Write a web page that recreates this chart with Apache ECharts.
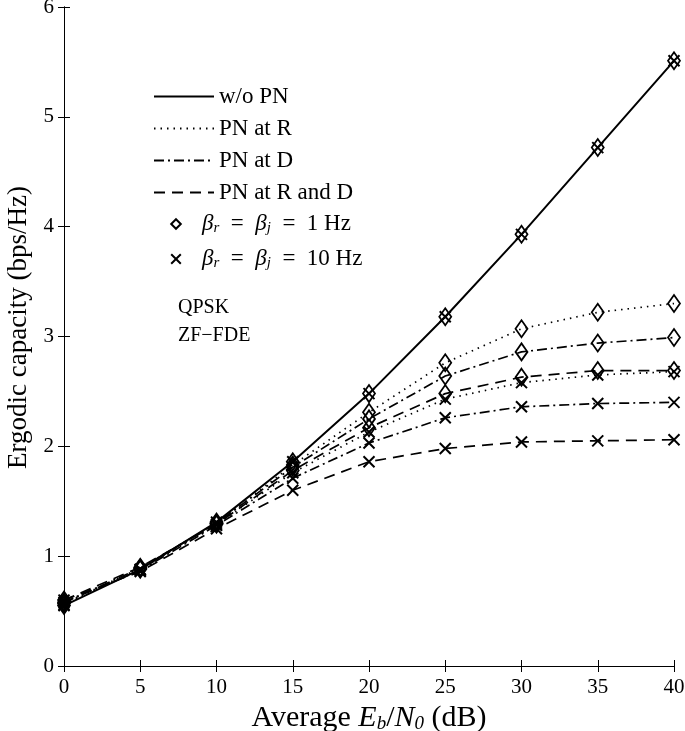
<!DOCTYPE html>
<html>
<head>
<meta charset="utf-8">
<script src="https://cdn.jsdelivr.net/npm/echarts@6/dist/echarts.min.js"></script>
<style>
html,body{margin:0;padding:0;background:#fff;}
#c{width:685px;height:731px;}
</style>
</head>
<body>
<div id="c"></div>
<script>
// ---- data ----
var snr = [0, 5, 10, 15, 20, 25, 30, 35, 40];
var woPN     = [0.55, 0.88, 1.31, 1.86, 2.48, 3.18, 3.93, 4.72, 5.51];
var pnR_b1   = [0.57, 0.89, 1.30, 1.83, 2.31, 2.76, 3.07, 3.22, 3.30];
var pnD_b1   = [0.58, 0.89, 1.30, 1.81, 2.25, 2.64, 2.86, 2.94, 2.99];
var pnRD_b1  = [0.60, 0.90, 1.29, 1.78, 2.17, 2.48, 2.63, 2.69, 2.69];
var pnR_b10  = [0.56, 0.88, 1.29, 1.76, 2.13, 2.43, 2.58, 2.65, 2.68];
var pnD_b10  = [0.58, 0.87, 1.28, 1.71, 2.03, 2.26, 2.36, 2.39, 2.40];
var pnRD_b10 = [0.60, 0.86, 1.25, 1.60, 1.86, 1.98, 2.04, 2.05, 2.06];
var xTicks = [0, 5, 10, 15, 20, 25, 30, 35, 40];
var yTicks = [0, 1, 2, 3, 4, 5, 6];
var lineLegend = ['w/o PN', 'PN at R', 'PN at D', 'PN at R and D'];
var markerLegend = ['b1', 'b10'];

var FONT = "'Liberation Serif','DejaVu Serif',serif";
var DIAMOND = 'path://M6,0L12,8.5L6,17L0,8.5Z';
var CROSS = 'path://M0,0L10,10M10,0L0,10';
var styles = {
  solid: 'solid',
  dotted: [1.5, 5],
  dashdot: [10, 4, 2, 4],
  dashed: [11, 7]
};
var CLEAR = 'rgba(0,0,0,0)';

function pairs(vals) { return snr.map(function (x, i) { return [x, vals[i]]; }); }

function dataSeries(name, vals, dash, marker, showLine) {
  var isD = marker === 'd';
  return {
    name: name,
    type: 'line',
    data: pairs(vals),
    symbol: isD ? DIAMOND : CROSS,
    symbolSize: isD ? [12, 17] : [11, 11],
    showAllSymbol: true,
    silent: true,
    animation: false,
    z: 3,
    lineStyle: { color: '#000', width: showLine ? (dash === 'solid' ? 2 : 1.7) : 0, type: dash, opacity: showLine ? 1 : 0 },
    itemStyle: { color: CLEAR, borderColor: '#000', borderWidth: isD ? 1.8 : 2 }
  };
}

function legendLine(name, dash) {
  return {
    name: name, type: 'line', data: [], animation: false, symbol: 'circle',
    lineStyle: { color: '#000', width: dash === 'solid' ? 2 : 1.7, type: dash },
    itemStyle: { color: CLEAR, borderColor: CLEAR, borderWidth: 0, opacity: 0 }
  };
}
function legendMarker(name, marker) {
  var isD = marker === 'd';
  return {
    name: name, type: 'line', data: [], animation: false,
    symbol: isD ? DIAMOND : CROSS,
    lineStyle: { color: CLEAR, width: 0 },
    itemStyle: { color: CLEAR, borderColor: '#000', borderWidth: 2 }
  };
}

var series = [
  legendLine(lineLegend[0], styles.solid),
  legendLine(lineLegend[1], styles.dotted),
  legendLine(lineLegend[2], styles.dashdot),
  legendLine(lineLegend[3], styles.dashed),
  legendMarker(markerLegend[0], 'd'),
  legendMarker(markerLegend[1], 'x'),
  dataSeries('s_pnRD_b10', pnRD_b10, styles.dashed, 'x', true),
  dataSeries('s_pnD_b10', pnD_b10, styles.dashdot, 'x', true),
  dataSeries('s_pnR_b10', pnR_b10, styles.dotted, 'x', true),
  dataSeries('s_pnRD_b1', pnRD_b1, styles.dashed, 'd', true),
  dataSeries('s_pnD_b1', pnD_b1, styles.dashdot, 'd', true),
  dataSeries('s_pnR_b1', pnR_b1, styles.dotted, 'd', true),
  dataSeries('s_woPN_d', woPN, styles.solid, 'd', true),
  dataSeries('s_woPN_x', woPN, styles.solid, 'x', false)
];

var axisLineStyle = { show: true, lineStyle: { color: '#000', width: 1 } };
var tickStyle = { show: true, inside: true, length: 6, lineStyle: { color: '#000', width: 1 } };
var legRich = {
  n: { fontFamily: FONT, fontSize: 23, color: '#000', lineHeight: 26 },
  i: { fontFamily: FONT, fontSize: 23, fontStyle: 'italic', color: '#000', lineHeight: 26 },
  s: { fontFamily: FONT, fontSize: 15, fontStyle: 'italic', color: '#000', padding: [9, 0, 0, 0], lineHeight: 26 }
};

var option = {
  backgroundColor: '#fff',
  animation: false,
  grid: { left: 64, right: 11, top: 7, bottom: 65, containLabel: false, outerBoundsMode: 'none' },
  legend: [{
    data: lineLegend,
    orient: 'vertical',
    left: 148,
    top: 79,
    itemWidth: 60,
    itemHeight: 14,
    itemGap: 7,
    selectedMode: false,
    textStyle: { fontFamily: FONT, fontSize: 23, color: '#000', lineHeight: 25 }
  }, {
    data: markerLegend,
    orient: 'vertical',
    left: 150,
    top: 207,
    itemWidth: 42,
    itemHeight: 12,
    itemGap: 11,
    selectedMode: false,
    textStyle: { fontFamily: FONT, fontSize: 23, color: '#000', rich: legRich },
    formatter: function (name) {
      if (name === 'b1') return '{i|β}{s|r}{n|  =  }{i|β}{s|j}{n|  =  1 Hz}';
      return '{i|β}{s|r}{n|  =  }{i|β}{s|j}{n|  =  10 Hz}';
    }
  }],
  xAxis: [{
    type: 'value', min: 0, max: 40, interval: 5, position: 'bottom',
    axisLine: axisLineStyle, axisTick: tickStyle, splitLine: { show: false },
    axisLabel: { color: '#000', fontFamily: FONT, fontSize: 21, margin: 11 },
    name: '{n|Average }{i|E}{s|b}{n|/}{i|N}{s|0}{n| (dB)}',
    nameLocation: 'middle', nameGap: 32,
    nameTextStyle: {
      color: '#000', fontFamily: FONT, fontSize: 30,
      rich: {
        n: { fontFamily: FONT, fontSize: 30, color: '#000' },
        i: { fontFamily: FONT, fontSize: 30, fontStyle: 'italic', color: '#000' },
        s: { fontFamily: FONT, fontSize: 19, color: '#000', fontStyle: 'italic', padding: [13, 0, 0, 0] }
      }
    }
  }, {
    type: 'value', min: 0, max: 40, interval: 5, position: 'top',
    axisLine: axisLineStyle, axisTick: tickStyle, splitLine: { show: false },
    axisLabel: { show: false }
  }],
  yAxis: [{
    type: 'value', min: 0, max: 6, interval: 1, position: 'left',
    axisLine: axisLineStyle, axisTick: tickStyle, splitLine: { show: false },
    axisLabel: { color: '#000', fontFamily: FONT, fontSize: 21, margin: 10 },
    name: 'Ergodic capacity (bps/Hz)',
    nameLocation: 'middle', nameGap: 27, nameRotate: 90,
    nameTextStyle: { color: '#000', fontFamily: FONT, fontSize: 27, padding: [0, 0, 0, 18] }
  }, {
    type: 'value', min: 0, max: 6, interval: 1, position: 'right',
    axisLine: axisLineStyle, axisTick: tickStyle, splitLine: { show: false },
    axisLabel: { show: false }
  }],
  graphic: [
    { type: 'text', left: 178, top: 298, style: { text: 'QPSK', fontFamily: FONT, fontSize: 20, fill: '#000' } },
    { type: 'text', left: 178, top: 326, style: { text: 'ZF\u2212FDE', fontFamily: FONT, fontSize: 20, fill: '#000' } }
  ],
  series: series
};

var chart = echarts.init(document.getElementById('c'), null, { renderer: 'canvas' });
chart.setOption(option);
</script>
</body>
</html>
